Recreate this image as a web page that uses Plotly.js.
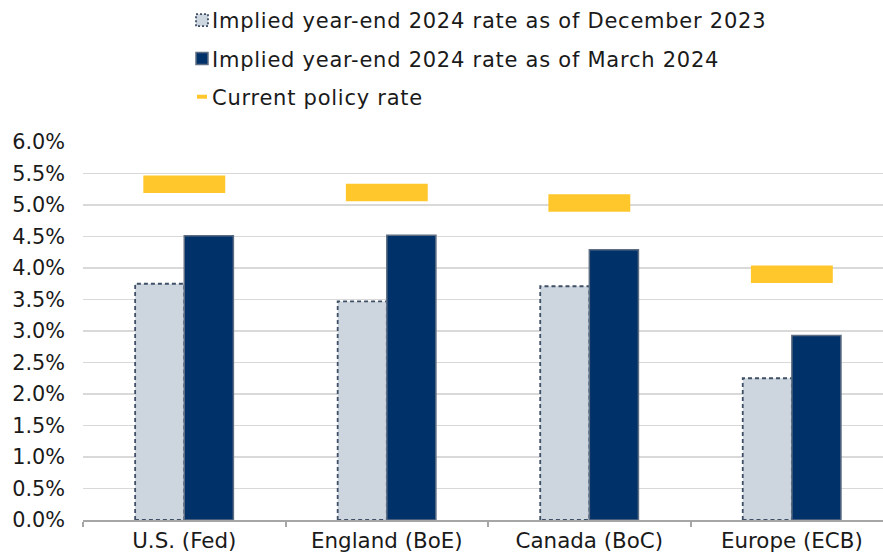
<!DOCTYPE html>
<html>
<head>
<meta charset="utf-8">
<script src="https://cdn.plot.ly/plotly-3.0.1.min.js"></script>
<style>html,body{margin:0;padding:0;background:#fff;}#chart{width:883px;height:554px;}
#chart .legendtext{letter-spacing:0.75px;}
</style>
</head>
<body>
<div id="chart"></div>
<script>
var categories = ["U.S. (Fed)", "England (BoE)", "Canada (BoC)", "Europe (ECB)"];
var impliedDec2023 = [3.75, 3.47, 3.71, 2.25];
var impliedMar2024 = [4.51, 4.52, 4.29, 2.93];
var policyRate = [5.33, 5.2, 5.03, 3.9];
var yTickVals = [0, 0.5, 1, 1.5, 2, 2.5, 3, 3.5, 4, 4.5, 5, 5.5, 6];
var yTickText = ["0.0%","0.5%","1.0%","1.5%","2.0%","2.5%","3.0%","3.5%","4.0%","4.5%","5.0%","5.5%","6.0%"];

var FONT = "DejaVu Sans, sans-serif";
var traces = [
  {
    type: "bar", name: "Implied year-end 2024 rate as of December 2023", legendgroup: "a",
    x: categories, y: impliedDec2023,
    marker: {color: "#cdd5df", line: {color: "#3f4f66", width: 1.8}}
  },
  {
    type: "bar", name: "Implied year-end 2024 rate as of March 2024", legendgroup: "b",
    x: categories, y: impliedMar2024,
    marker: {color: "#003168", line: {color: "#5d6d82", width: 1.5}}
  },
  {
    type: "scatter", mode: "markers", name: "Current policy rate", legendgroup: "c",
    x: categories, y: policyRate,
    marker: {symbol: "line-ew", size: 58.5, color: "#ffc72c", line: {color: "#ffc72c", width: 17.5}}
  }
];

var layout = {
  width: 883, height: 554,
  margin: {l: 83, r: 0, t: 142, b: 34, autoexpand: false},
  paper_bgcolor: "#fff", plot_bgcolor: "#fff",
  font: {family: FONT, size: 20, color: "#1a1a1a"},
  barmode: "group", bargap: 0.515, bargroupgap: 0,
  showlegend: true,
  legend: {
    x: 0.11125, y: 1.3757, xanchor: "left", yanchor: "top",
    font: {family: FONT, size: 21, color: "#1a1a1a"},
    tracegroupgap: 8,
    bgcolor: "rgba(0,0,0,0)"
  },
  xaxis: {
    type: "category", range: [-0.5, 3.45],
    showgrid: false, showline: true, linecolor: "#a6a6a6", linewidth: 2,
    ticks: "outside", tickson: "boundaries", ticklen: 5, tickcolor: "#a6a6a6", tickwidth: 2,
    tickfont: {family: FONT, size: 21.4, color: "#1a1a1a"},
    tickangle: 0,
    fixedrange: true
  },
  yaxis: {
    range: [0, 6], tickvals: yTickVals, ticktext: yTickText,
    showgrid: true, gridcolor: "#d9d9d9", gridwidth: 1.5,
    zeroline: false, showline: false, ticks: "",
    tickfont: {family: FONT, size: 20.8, color: "#1a1a1a"},
    ticklabelstandoff: 17,
    fixedrange: true
  }
};

Plotly.newPlot("chart", traces, layout, {displayModeBar: false, staticPlot: true}).then(function(gd){
  var t = gd.querySelectorAll(".barlayer .trace")[0];
  if (t) t.querySelectorAll("path").forEach(function(p){ p.style.strokeDasharray = "4,3"; });
  gd.querySelectorAll(".legend [clip-path]").forEach(function(n){ n.removeAttribute("clip-path"); });
  var legTraces = gd.querySelectorAll(".legend .traces");
  if (legTraces[0]) legTraces[0].querySelectorAll(".legendpoints path").forEach(function(p){ p.style.strokeDasharray = "2,2"; });
  legTraces.forEach(function(tr){
    var s = tr.querySelector(".legendpoints");
    if (s) s.setAttribute("transform", "translate(10,0)");
  });
  if (legTraces[2]) legTraces[2].querySelectorAll(".legendpoints path").forEach(function(p){
    p.setAttribute("d", "M-5,0H5");
    p.style.strokeWidth = "4px";
  });
});
</script>
</body>
</html>
